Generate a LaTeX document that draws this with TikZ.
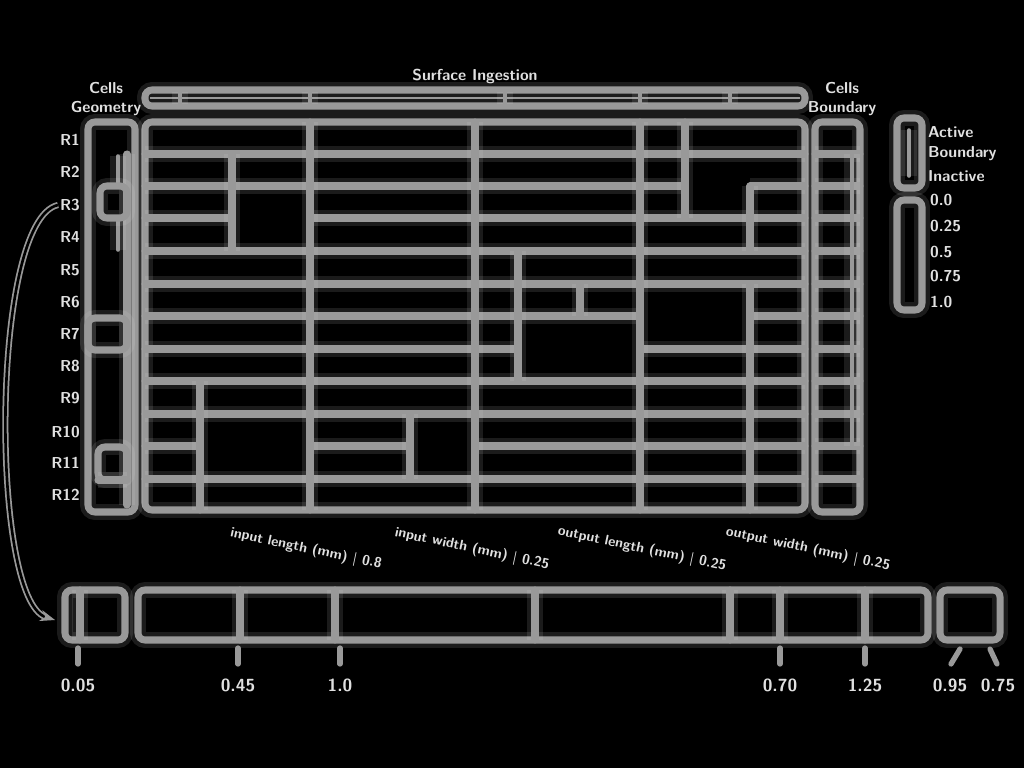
\documentclass[tikz,border=0pt]{standalone}
\usepackage{tikz}
\usetikzlibrary{arrows.meta,calc,positioning}
\definecolor{railgray}{rgb}{0.60,0.60,0.60}
\definecolor{glowgray}{rgb}{0.88,0.88,0.88}
\tikzset{
  rail/.style={
    draw=railgray,
    line width=4pt,
    line cap=round,
    preaction={draw=glowgray, line width=9pt, opacity=0.12}
  },
  frame/.style={
    rail,
    rounded corners=4pt
  },
  lbl/.style={
    text=glowgray,
    font=\sffamily\bfseries\small,
    inner sep=1pt
  },
  tilted/.style={
    lbl,
    font=\sffamily\bfseries\footnotesize,
    rotate=-12
  },
  tick/.style={
    lbl,
    font=\sffamily\bfseries
  },
  pin/.style={
    draw=railgray,
    line width=3pt,
    line cap=round
  }
}

\begin{document}
\begin{tikzpicture}[x=0.02cm, y=-0.02cm]
\fill[black] (0,0) rectangle (1024,768);
\useasboundingbox (0,0) rectangle (1024,768);

% headers
\node[lbl] (sec) at (475,76) {Surface Ingestion};
\node[lbl, align=center] (lgeo) at (106,99) {Cells\\Geometry};
\node[lbl, align=center] (rgeo) at (842,99) {Cells\\Boundary};

% header bar
\draw[frame] (145,90) rectangle (805,106);
\draw[railgray, line width=1pt] (150,98) -- (800,98);
\foreach \x in {180,310,505,640,730}
  \draw[rail, line width=2pt] (\x,92) -- (\x,104);

% main grid
\draw[frame] (145,122) rectangle (805,510);
\foreach \y/\a/\b in {154/145/805, 186/145/685, 186/750/805, 218/145/232,
    218/310/805, 251/145/805, 284/145/805, 316/145/640, 316/750/805,
    349/145/518, 349/640/805, 381/145/805, 414/145/805, 446/145/200,
    446/310/410, 446/475/805, 479/145/805}
  \draw[rail] (\a,\y) -- (\b,\y);
\foreach \x/\a/\b in {310/122/510, 475/122/510, 640/122/510, 685/122/218,
    232/154/251, 750/186/251, 518/251/381, 580/284/316, 750/284/510,
    200/381/510, 410/414/479}
  \draw[rail] (\x,\a) -- (\x,\b);

% left column
\draw[frame] (88,122) rectangle (135,512);
\draw[rail] (127,154) -- (127,505);
\draw[rail, line width=2pt] (118,156) -- (118,186);
\draw[rail, line width=2pt] (118,218) -- (118,250);
\draw[frame] (100,186) rectangle (127,218);
\draw[frame] (88,318) rectangle (127,350);
\draw[frame] (98,447) rectangle (127,480);
\draw[rail] (98,480) -- (127,480);

% row labels
\foreach \i/\y in {1/140,2/172,3/205,4/237,5/270,6/302,7/334,8/366,9/398,10/432,11/463,12/495}
  \node[lbl, anchor=east] (row\i) at (82,\y) {R\i};

% right column
\draw[frame] (815,122) rectangle (860,512);
\foreach \y in {154,186,218,251,284,316,349,381,414,446,479}
  \draw[rail] (815,\y) -- (860,\y);
\draw[rail, line width=2pt] (852,154) -- (852,446);

% legend
\draw[frame] (897,118) rectangle (922,188);
\draw[rail, line width=2pt] (909,130) -- (909,176);
\node[lbl, anchor=west] (act) at (926,132) {Active};
\node[lbl, anchor=west] (bnd) at (926,154) {Boundary};
\node[lbl, anchor=west] (ina) at (926,176) {Inactive};
\draw[frame] (897,200) rectangle (922,310);
\foreach \v/\y in {0.0/200,0.25/226,0.5/252,0.75/276,1.0/302}
  \node[lbl, anchor=west] at (928,\y) {\v};

% tilted labels
\node[tilted] (il) at (306,549) {input length (mm) | 0.8};
\node[tilted] (iw) at (472,549) {input width (mm) | 0.25};
\node[tilted] (ol) at (642,549) {output length (mm) | 0.25};
\node[tilted] (ow) at (808,549) {output width (mm) | 0.25};

% bottom strip
\draw[frame] (65,590) rectangle (125,640);
\draw[rail] (80,590) -- (80,640);
\draw[frame] (138,590) rectangle (928,640);
\foreach \x in {240,335,535,730,780,865}
  \draw[rail] (\x,590) -- (\x,640);
\draw[frame] (940,590) rectangle (1000,640);
\coordinate (sw) at (55,620);

% ticks
\foreach \x/\t/\n in {78/0.05/ta,238/0.45/tb,340/1.0/tc,780/0.70/td,865/1.25/te}{
  \node[tick] (\n) at (\x,685) {\t};
  \draw[pin] (\x,648) -- (\x,664);
}
\node[tick] (tf) at (950,685) {0.95};
\node[tick] (tg) at (998,685) {0.75};
\draw[pin] (960,649) -- (951,664);
\draw[pin] (990,649) -- (997,664);

% loop back arrow
\draw[railgray, line width=1pt, double=black, double distance=1.5pt, -{Stealth[length=3mm]}]
  (row3.west) .. controls (-10,220) and (-10,600) .. (sw);
\end{tikzpicture}
\end{document}
